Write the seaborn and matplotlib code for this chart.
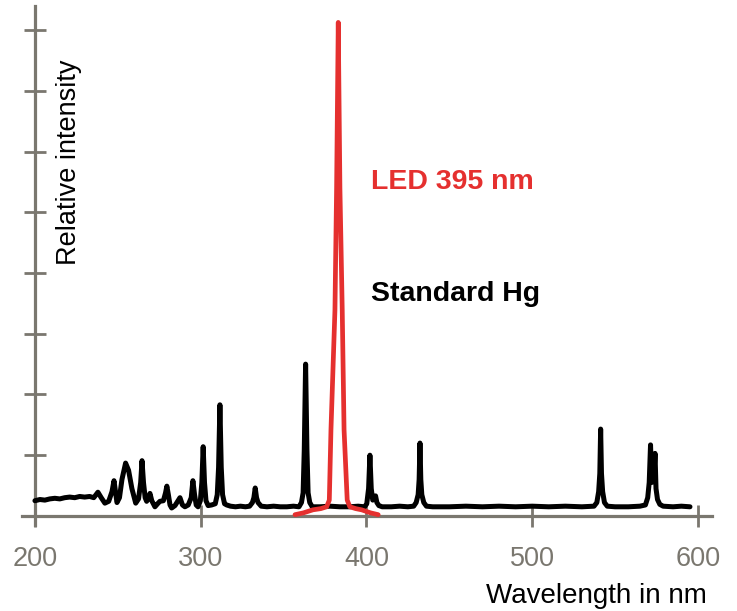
import matplotlib
matplotlib.use("Agg")
import matplotlib.pyplot as plt
import pandas as pd
import seaborn as sns

# Standard Hg lamp spectrum (wavelength nm, relative intensity)
hg_nm = [200.0, 203.0, 206.0, 209.0, 212.0, 215.0, 218.0, 221.0, 224.0, 227.0,
         230.0, 233.0, 235.5, 238.0, 240.0, 242.2, 244.5, 246.5, 247.7, 248.8,
         249.5, 251.0, 252.5, 254.7, 256.5, 258.5, 260.8, 262.5, 263.8, 264.6,
         265.5, 266.5, 267.4, 268.5, 269.4, 270.5, 272.4, 274.0, 275.4, 277.5,
         278.8, 279.6, 280.5, 281.5, 282.5, 284.5, 287.5, 289.0, 290.5, 292.5,
         294.3, 295.3, 296.3, 297.3, 298.4, 299.8, 300.7, 301.5, 302.3, 303.2,
         304.5, 306.6, 308.8, 310.0, 310.8, 311.6, 312.4, 313.2, 314.4, 315.7,
         318.0, 321.0, 324.0, 327.0, 329.5, 331.2, 332.1, 332.9, 333.7, 334.6,
         336.5, 340.0, 344.0, 348.0, 352.0, 356.0, 359.3, 360.8, 361.8, 362.5,
         363.3, 364.1, 364.8, 365.8, 367.3, 372.0, 378.0, 384.0, 390.0, 395.0,
         398.9, 400.2, 401.3, 402.1, 402.9, 403.8, 404.7, 405.5, 406.3, 407.5,
         409.5, 415.0, 420.0, 425.0, 428.5, 430.0, 431.2, 431.8, 432.3, 432.8,
         433.4, 434.6, 436.2, 440.0, 450.0, 460.0, 470.0, 480.0, 490.0, 500.0,
         510.0, 520.0, 530.0, 537.3, 539.0, 540.1, 540.8, 541.3, 541.8, 542.5,
         543.6, 545.3, 550.0, 558.0, 565.0, 568.3, 569.7, 570.6, 571.4, 572.1,
         572.9, 573.6, 574.1, 574.7, 575.6, 577.0, 579.0, 585.0, 590.0, 595.2]
hg_int = [0.25, 0.27, 0.26, 0.28, 0.29, 0.28, 0.30, 0.31, 0.30, 0.32,
          0.31, 0.32, 0.30, 0.39, 0.30, 0.21, 0.24, 0.40, 0.58, 0.36,
          0.22, 0.30, 0.60, 0.87, 0.75, 0.45, 0.21, 0.28, 0.55, 0.91,
          0.55, 0.30, 0.24, 0.30, 0.37, 0.25, 0.15, 0.20, 0.24, 0.25,
          0.38, 0.49, 0.35, 0.18, 0.13, 0.17, 0.30, 0.18, 0.15, 0.18,
          0.30, 0.58, 0.35, 0.18, 0.15, 0.25, 0.55, 1.14, 0.55, 0.25,
          0.17, 0.18, 0.20, 0.35, 0.80, 1.83, 0.80, 0.35, 0.20, 0.18,
          0.16, 0.15, 0.16, 0.15, 0.16, 0.22, 0.30, 0.46, 0.30, 0.22,
          0.16, 0.15, 0.16, 0.15, 0.15, 0.16, 0.15, 0.22, 0.38, 1.09,
          2.50, 1.09, 0.38, 0.22, 0.15, 0.15, 0.16, 0.15, 0.15, 0.16,
          0.15, 0.20, 0.45, 1.00, 0.45, 0.26, 0.30, 0.33, 0.22, 0.17,
          0.15, 0.15, 0.16, 0.15, 0.16, 0.22, 0.35, 0.60, 1.20, 0.60,
          0.35, 0.22, 0.16, 0.15, 0.15, 0.16, 0.15, 0.16, 0.15, 0.16,
          0.15, 0.16, 0.15, 0.16, 0.22, 0.40, 0.70, 1.43, 0.70, 0.40,
          0.22, 0.16, 0.15, 0.15, 0.16, 0.18, 0.30, 0.55, 1.17, 0.55,
          0.60, 0.75, 1.03, 0.45, 0.27, 0.19, 0.16, 0.15, 0.16, 0.15]

# LED emission (wavelength nm, relative intensity)
led_nm = [356.9, 362.0, 367.7, 372.5, 376.0, 377.6, 378.6, 381.0, 382.0, 383.0,
          384.0, 385.4, 386.5, 388.4, 390.0, 393.5, 397.1, 402.5, 407.1]
led_int = [0.02, 0.05, 0.10, 0.12, 0.15, 0.26, 1.42, 3.39, 5.40, 8.13,
           5.40, 3.39, 1.42, 0.26, 0.15, 0.12, 0.10, 0.05, 0.02]

x_ticks = [200, 300, 400, 500, 600]
y_ticks = [0, 1, 2, 3, 4, 5, 6, 7, 8]

led_label = "LED 395 nm"
hg_label = "Standard Hg"
x_title = "Wavelength in nm"
y_title = "Relative intensity"

AXIS_COL = "#7a776f"
RED = "#e5302f"

sns.set_theme(style="white")
plt.rcParams["font.family"] = ["Liberation Sans", "DejaVu Sans"]

fig = plt.figure(figsize=(7.37, 6.11), dpi=100)
ax = fig.add_axes([22 / 737, 86 / 611, 689.7 / 737, 519 / 611])

hg_df = pd.DataFrame({"nm": hg_nm, "intensity": hg_int})
led_df = pd.DataFrame({"nm": led_nm, "intensity": led_int})

sns.lineplot(data=hg_df, x="nm", y="intensity", color="black", linewidth=3.6,
             sort=False, estimator=None, ax=ax)
sns.lineplot(data=led_df, x="nm", y="intensity", color=RED, linewidth=3.4,
             sort=False, estimator=None, ax=ax)
for ln in ax.get_lines():
    ln.set_solid_joinstyle("round")
    ln.set_solid_capstyle("round")

ax.set_xlim(192.2, 608.3)
ax.set_ylim(-0.15, 8.40)

for s in ["top", "right"]:
    ax.spines[s].set_visible(False)
ax.spines["left"].set_position(("data", 200))
ax.spines["bottom"].set_position(("data", 0))
for s in ["left", "bottom"]:
    ax.spines[s].set_color(AXIS_COL)
    ax.spines[s].set_linewidth(2.3)
    ax.spines[s].set_zorder(0.5)

ax.set_xticks(x_ticks)
ax.set_xticklabels([str(v) for v in x_ticks])
ax.set_yticks(y_ticks)
ax.set_yticklabels([])
ax.tick_params(axis="both", direction="inout", length=16, width=2,
               color=AXIS_COL, left=True, bottom=True)
ax.tick_params(axis="x", labelsize=19.5, labelcolor=AXIS_COL, pad=14)

ax.set_xlabel(x_title, fontsize=20, color="black")
ax.xaxis.label.set_ha("right")
ax.xaxis.label.set_va("baseline")
ax.xaxis.set_label_coords((707 - 22) / 689.7, (525 - 603.3) / 519)

ax.set_ylabel(y_title, fontsize=19.5, color="black")
ax.yaxis.label.set_ha("left")
ax.yaxis.set_label_coords((82 - 22) / 689.7, (525 - 265) / 519)

ax.text(403.0, 5.38, led_label, color=RED, fontsize=20.5, fontweight="bold",
        ha="left", va="baseline")
ax.text(403.0, 3.544, hg_label, color="black", fontsize=20.5, fontweight="bold",
        ha="left", va="baseline")

fig.savefig("out.png", dpi=100)
